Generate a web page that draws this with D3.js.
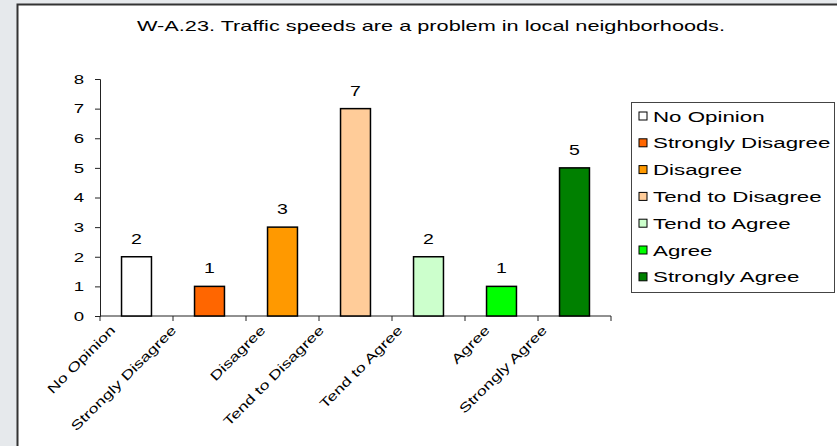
<!DOCTYPE html>
<html>
<head>
<meta charset="utf-8">
<script src="https://cdn.jsdelivr.net/npm/d3@7"></script>
<style>
  body { margin: 0; background: #e6e9ec; }
  svg { display: block; font-family: "Liberation Sans", Arial, sans-serif; }
</style>
</head>
<body>
<div id="chart"></div>
<script>
// Daten
const title = "W-A.23.  Traffic speeds are a problem in local neighborhoods.";
const categories = ["No Opinion", "Strongly Disagree", "Disagree", "Tend to Disagree", "Tend to Agree", "Agree", "Strongly Agree"];
const counts = [2, 1, 3, 7, 2, 1, 5];
const colors = ["#ffffff", "#ff6600", "#ff9900", "#ffcc99", "#ccffcc", "#00ff00", "#008000"];
const yTicks = [0, 1, 2, 3, 4, 5, 6, 7, 8];

const width = 837;
const height = 446;
const margin = { top: 79, right: 226, bottom: 130, left: 100 };
const stretch = 1.38; // Schrift im Original horizontal gestreckt

const svg = d3.select("#chart")
    .append("svg")
    .attr("width", width)
    .attr("height", height);

// Rahmen / Hintergrund
svg.append("rect")
    .attr("x", 0).attr("y", 0)
    .attr("width", width).attr("height", height)
    .attr("fill", "#e6e9ec");

svg.append("rect")
    .attr("x", 17.5).attr("y", 4.5)
    .attr("width", width + 20).attr("height", height + 20)
    .attr("fill", "#ffffff")
    .attr("stroke", "#333")
    .attr("stroke-width", 2);

// Titel
svg.append("text")
    .attr("x", 137)
    .attr("y", 31)
    .attr("font-size", 14.5)
    .attr("textLength", 588)
    .attr("lengthAdjust", "spacingAndGlyphs")
    .attr("fill", "#000")
    .text(title);

// Skalen
const x = d3.scaleBand()
    .domain(categories)
    .range([margin.left, 611])
    .paddingInner(0.59)
    .paddingOuter(0.295);

const y = d3.scaleLinear()
    .domain([0, 8])
    .range([316, margin.top]);

// y-Achse (Beschriftung separat wegen Streckung)
const yAxis = svg.append("g")
    .attr("transform", `translate(${margin.left},0)`)
    .call(d3.axisLeft(y).tickValues(yTicks).tickSize(5).tickFormat(""));
yAxis.selectAll("line, path").attr("stroke", "#222");

svg.selectAll(".ylab")
    .data(yTicks)
    .join("text")
    .attr("class", "ylab")
    .attr("text-anchor", "end")
    .attr("font-size", 13.5)
    .attr("transform", d => `translate(84,${y(d) + 4.8}) scale(${stretch},1)`)
    .text(d => d);

// x-Achse: Linie und Striche an den Kategoriegrenzen
const x0 = x.range()[0];
const boundaries = d3.range(categories.length + 1).map(i => x0 + i * x.step());

svg.append("line")
    .attr("x1", x0).attr("x2", x.range()[1])
    .attr("y1", y(0)).attr("y2", y(0))
    .attr("stroke", "#222");

svg.selectAll(".xtick")
    .data(boundaries)
    .join("line")
    .attr("class", "xtick")
    .attr("x1", d => d).attr("x2", d => d)
    .attr("y1", y(0)).attr("y2", y(0) + 5)
    .attr("stroke", "#222");

// Balken
svg.selectAll(".bar")
    .data(categories)
    .join("rect")
    .attr("class", "bar")
    .attr("x", d => x(d))
    .attr("y", (d, i) => y(counts[i]))
    .attr("width", x.bandwidth())
    .attr("height", (d, i) => y(0) - y(counts[i]))
    .attr("fill", (d, i) => colors[i])
    .attr("stroke", "#000")
    .attr("stroke-width", 1.5);

// Werte über den Balken
svg.selectAll(".val")
    .data(categories)
    .join("text")
    .attr("class", "val")
    .attr("text-anchor", "middle")
    .attr("font-size", 15)
    .attr("transform", (d, i) => `translate(${x(d) + x.bandwidth() / 2},${y(counts[i]) - 13}) scale(1.3,1)`)
    .text((d, i) => counts[i]);

// Kategorienamen, um 45° gedreht; längere Namen rücken weiter nach links
const xlabs = svg.selectAll(".xlab")
    .data(categories)
    .join("text")
    .attr("class", "xlab")
    .attr("text-anchor", "end")
    .attr("font-size", 13)
    .text(d => d);

xlabs.attr("transform", function (d) {
    const len = this.getComputedTextLength() * stretch;
    const cx = x(d) + x.bandwidth() / 2 - 0.227 * len;
    return `translate(${cx},${y(0) + 15}) rotate(-45) scale(${stretch},1)`;
});

// Legende
const legend = svg.append("g").attr("transform", "translate(631,102)");
legend.append("rect")
    .attr("x", 0.5).attr("y", 0.5)
    .attr("width", 203).attr("height", 190)
    .attr("fill", "#fff")
    .attr("stroke", "#444");

const rowH = 26.8;
const items = legend.selectAll(".item")
    .data(categories)
    .join("g")
    .attr("class", "item")
    .attr("transform", (d, i) => `translate(0,${14 + i * rowH})`);

items.append("rect")
    .attr("x", 8).attr("y", -4)
    .attr("width", 8).attr("height", 8)
    .attr("fill", (d, i) => colors[i])
    .attr("stroke", "#000")
    .attr("stroke-width", 1);

items.append("text")
    .attr("transform", "translate(22,5.6) scale(1.44,1)")
    .attr("font-size", 15.5)
    .text(d => d);
</script>
</body>
</html>
